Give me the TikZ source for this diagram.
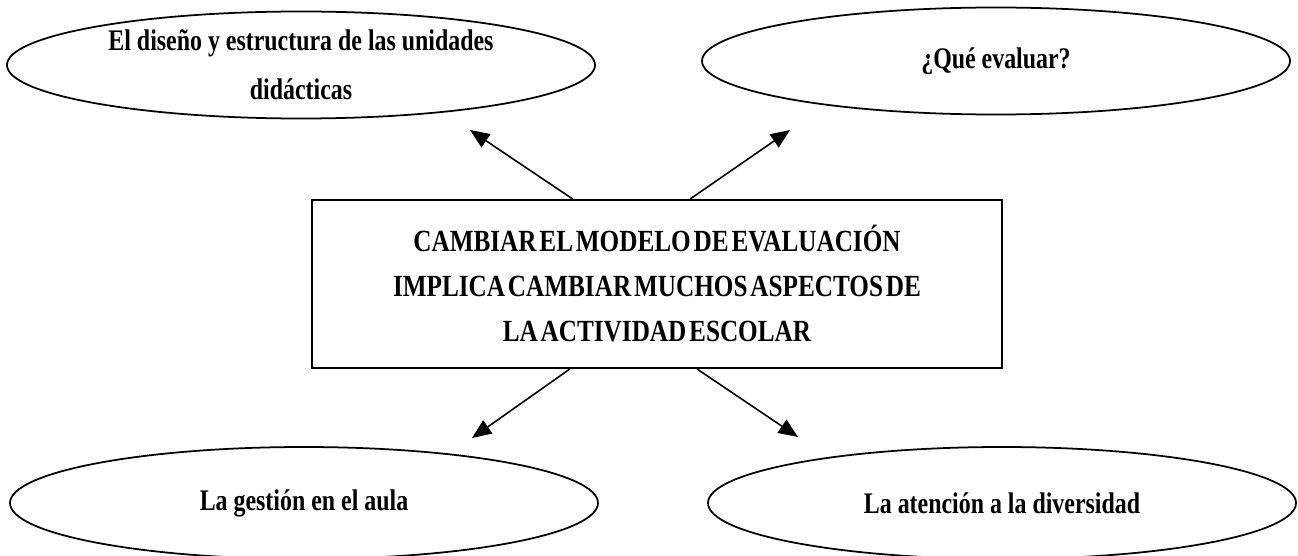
\documentclass[tikz,border=0pt]{standalone}
\usepackage{fontspec}
\setmainfont[FakeStretch=0.8]{Liberation Serif}
\newfontfamily\boxfont[FakeStretch=0.82,WordSpace=0.45]{Liberation Serif}
\usetikzlibrary{shapes.geometric,arrows.meta,calc}

\begin{document}
\begin{tikzpicture}[scale=0.2,
  bubble/.style={draw,ellipse,line width=1pt,inner sep=0pt,align=center,
    minimum width=11.76cm,minimum height=2.14cm,
    font=\fontsize{17}{28}\selectfont\bfseries},
  mainbox/.style={draw,rectangle,line width=1.2pt,align=center,
    minimum width=13.8cm,minimum height=3.36cm,
    font=\boxfont\fontsize{17.5}{25.6}\selectfont\bfseries},
  arr/.style={line width=0.9pt,-{Triangle[length=11pt,width=9pt]}}]
\useasboundingbox (0,0) rectangle (129.8,-55.5);
\node [mainbox] (box) at (65.7,-28.4)
  {CAMBIAR EL MODELO DE EVALUACIÓN\\IMPLICA CAMBIAR MUCHOS ASPECTOS DE\\LA ACTIVIDAD ESCOLAR};
\node [bubble] (disenyo) at (30.1,-6.5) {El diseño y estructura de las unidades\\didácticas};
\node [bubble] (evaluar) at (99.6,-6.1) {¿Qué evaluar?};
\node [bubble, minimum height=2.24cm] (gestion) at (30.4,-50.3) {La gestión en el aula};
\node [bubble, minimum height=2.24cm] (atencion) at (100.2,-50.3) {La atención a la diversidad};
% arrow tips stop short of the ellipses
\coordinate (tipA) at (47.0,-13.0);
\coordinate (tipB) at (79.0,-13.0);
\coordinate (tipC) at (47.2,-43.8);
\coordinate (tipD) at (79.8,-43.7);
\draw [arr] ($(box.north west)!0.378!(box.north east)$) -- (tipA);
\draw [arr] ($(box.north west)!0.548!(box.north east)$) -- (tipB);
\draw [arr] ($(box.south west)!0.374!(box.south east)$) -- (tipC);
\draw [arr] ($(box.south west)!0.558!(box.south east)$) -- (tipD);
\end{tikzpicture}
\end{document}
